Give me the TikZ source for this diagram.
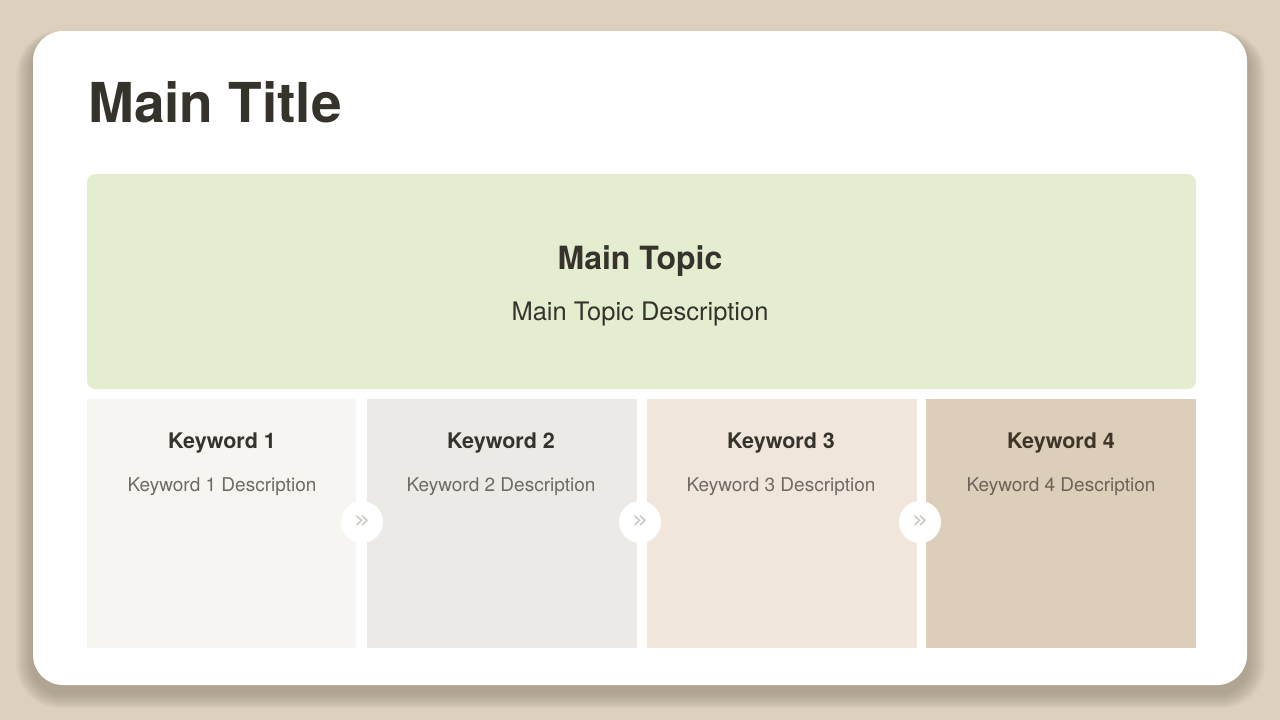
\documentclass[tikz,border=0pt]{standalone}
\usepackage{fontspec}
\setmainfont{TeX Gyre Heros}
\newfontfamily\symfont{DejaVu Sans}
\definecolor{bgc}{HTML}{DDD0BE}
\definecolor{shadowc}{HTML}{8F8572}
\definecolor{greenc}{HTML}{E4EDD0}
\definecolor{kwa}{HTML}{F6F5F2}
\definecolor{kwb}{HTML}{ECEAE7}
\definecolor{kwc}{HTML}{F0E6DC}
\definecolor{kwd}{HTML}{DDCEB9}
\definecolor{darktxt}{HTML}{35332B}
\definecolor{greytxt}{HTML}{6E6A64}
\definecolor{browntxt}{HTML}{3D3529}
\definecolor{browndesc}{HTML}{6E6357}
\definecolor{chev}{HTML}{CFCBC5}
\tikzset{
  kwbox/.style={anchor=north west, inner sep=0pt, minimum height=249pt},
  kwtitle/.style={font=\fontsize{21.5}{24}\selectfont\bfseries, text=darktxt},
  kwdesc/.style={font=\fontsize{19}{22}\selectfont, text=greytxt},
  arrowdot/.style={circle, fill=white, minimum size=42pt, inner sep=0pt, text=chev, font=\symfont\fontsize{26}{26}\selectfont}
}
\begin{document}
\begin{tikzpicture}[x=1pt,y=-1pt]
\useasboundingbox (0,0) rectangle (1280,720);
\fill[bgc] (0,0) rectangle (1280,720);
% soft shadow of the card
\foreach \i in {1,...,14}{
  \fill[shadowc, opacity=0.05, rounded corners={30pt+\i pt}]
    (33-\i*1.2,31+8-\i*0.6) rectangle (1247+\i*1.3,685+8+\i*1.1);
}
% card
\fill[white, rounded corners=30pt] (33,31) rectangle (1247,685);
% title
\node[anchor=base west, inner sep=0pt, font=\fontsize{55}{58}\selectfont\bfseries, text=darktxt] (title) at (88,122) {Main Title};
% main topic
\fill[greenc, rounded corners=8pt] (87,174) rectangle (1196,389);
\node[inner sep=0pt, font=\fontsize{32}{36}\selectfont\bfseries, text=darktxt] (mt) at (640,261) {Main Topic};
\node[inner sep=0pt, font=\fontsize{25.5}{29}\selectfont, text=darktxt] (md) at (640,314) {Main Topic Description};
% keyword boxes
\node[kwbox, fill=kwa, minimum width=269pt] (k1) at (87,399) {};
\node[kwbox, fill=kwb, minimum width=270pt] (k2) at (367,399) {};
\node[kwbox, fill=kwc, minimum width=270pt] (k3) at (647,399) {};
\node[kwbox, fill=kwd, minimum width=270pt] (k4) at (926,399) {};
\node[kwtitle] (k1t) at (222,443) {Keyword 1};
\node[kwdesc] (k1d) at (222,487) {Keyword 1 Description};
\node[kwtitle] (k2t) at (501,443) {Keyword 2};
\node[kwdesc] (k2d) at (501,487) {Keyword 2 Description};
\node[kwtitle] (k3t) at (781,443) {Keyword 3};
\node[kwdesc] (k3d) at (781,487) {Keyword 3 Description};
\node[kwtitle, text=browntxt] (k4t) at (1061,443) {Keyword 4};
\node[kwdesc, text=browndesc] (k4d) at (1061,487) {Keyword 4 Description};
% arrow dots
\node[arrowdot] (a1) at (362,522) {\raisebox{-1pt}{»}};
\node[arrowdot] (a2) at (640,522) {\raisebox{-1pt}{»}};
\node[arrowdot] (a3) at (920,522) {\raisebox{-1pt}{»}};
\end{tikzpicture}
\end{document}
